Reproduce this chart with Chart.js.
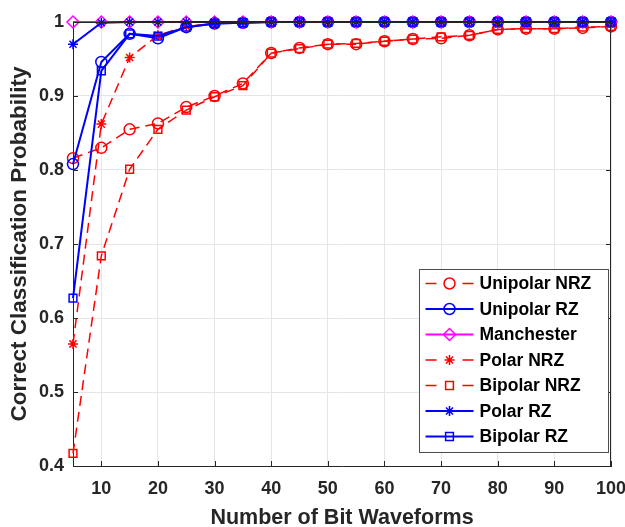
<!DOCTYPE html>
<html>
<head>
<meta charset="utf-8">
<script src="https://cdn.jsdelivr.net/npm/chart.js@4.4.1/dist/chart.umd.min.js"></script>
<style>
html, body { margin: 0; padding: 0; background: #fff; }
#wrap { width: 625px; height: 527px; position: relative; }
</style>
</head>
<body>
<div id="wrap"><canvas id="probChart"></canvas></div>
<script>
// number of bit waveforms (x axis)
var waveCounts = [5, 10, 15, 20, 25, 30, 35, 40, 45, 50, 55, 60, 65, 70, 75, 80, 85, 90, 95, 100];
var xTicks = [10, 20, 30, 40, 50, 60, 70, 80, 90, 100];
var yTicks = [0.4, 0.5, 0.6, 0.7, 0.8, 0.9, 1];

// correct classification probability per line code
var unipolarNrz = [0.816, 0.830, 0.855, 0.863, 0.885, 0.900, 0.917, 0.958, 0.965, 0.970, 0.970, 0.974, 0.977, 0.978, 0.982, 0.990, 0.991, 0.991, 0.992, 0.994];
var unipolarRz  = [0.808, 0.946, 0.984, 0.978, 0.993, 0.998, 0.999, 1, 1, 1, 1, 1, 1, 1, 1, 1, 1, 1, 1, 1];
var manchester  = [1, 1, 1, 1, 1, 1, 1, 1, 1, 1, 1, 1, 1, 1, 1, 1, 1, 1, 1, 1];
var polarNrz    = [0.565, 0.862, 0.952, 0.982, 0.994, 0.998, 0.999, 1, 1, 1, 1, 1, 1, 1, 1, 1, 1, 1, 1, 1];
var bipolarNrz  = [0.417, 0.684, 0.801, 0.855, 0.881, 0.899, 0.914, 0.958, 0.964, 0.970, 0.971, 0.974, 0.977, 0.980, 0.982, 0.990, 0.991, 0.991, 0.993, 0.994];
var polarRz     = [0.970, 0.999, 1, 1, 1, 1, 1, 1, 1, 1, 1, 1, 1, 1, 1, 1, 1, 1, 1, 1];
var bipolarRz   = [0.627, 0.934, 0.984, 0.981, 0.993, 0.998, 0.999, 1, 1, 1, 1, 1, 1, 1, 1, 1, 1, 1, 1, 1];

var seriesNames = ['Unipolar NRZ', 'Unipolar RZ', 'Manchester', 'Polar NRZ', 'Bipolar NRZ', 'Polar RZ', 'Bipolar RZ'];

var textColor = '#262626';
var fontFamily = '"Liberation Sans", Arial, sans-serif';

function makeSeries(name, values, color, dashed, marker, radius) {
    return {
        label: name,
        data: values.map(function (v, i) { return { x: waveCounts[i], y: v }; }),
        borderColor: color,
        borderWidth: dashed ? 1.5 : 2,
        borderDash: dashed ? [10, 6] : [],
        pointStyle: marker,
        pointRadius: radius,
        pointBorderColor: color,
        pointBackgroundColor: 'rgba(0,0,0,0)',
        pointBorderWidth: 1.5,
        fill: false,
        tension: 0,
        clip: false
    };
}

var datasets = [
    makeSeries(seriesNames[0], unipolarNrz, '#ff0000', true, 'circle', 5.5),
    makeSeries(seriesNames[1], unipolarRz, '#0000ff', false, 'circle', 5.5),
    makeSeries(seriesNames[2], manchester, '#ff00ff', false, 'rectRot', 6),
    makeSeries(seriesNames[3], polarNrz, '#ff0000', true, 'star', 5),
    makeSeries(seriesNames[4], bipolarNrz, '#ff0000', true, 'rect', 5.5),
    makeSeries(seriesNames[5], polarRz, '#0000ff', false, 'star', 5),
    makeSeries(seriesNames[6], bipolarRz, '#0000ff', false, 'rect', 5.5)
];
// later series on top, like the original plot order
datasets.forEach(function (d, i) { d.order = datasets.length - i; });

// box round the axes with inward tick marks
var axesFrame = {
    id: 'axesFrame',
    afterDraw: function (chart) {
        var ctx = chart.ctx;
        var a = chart.chartArea;
        var xs = chart.scales.x, ys = chart.scales.y;
        ctx.save();
        ctx.strokeStyle = textColor;
        ctx.lineWidth = 1;
        ctx.setLineDash([]);
        ctx.beginPath();
        ctx.moveTo(a.left, a.top + 0.5);
        ctx.lineTo(a.right, a.top + 0.5);
        ctx.moveTo(a.right - 0.5, a.top);
        ctx.lineTo(a.right - 0.5, a.bottom);
        xTicks.forEach(function (v) {
            var px = Math.round(xs.getPixelForValue(v)) + 0.5;
            ctx.moveTo(px, a.bottom);
            ctx.lineTo(px, a.bottom - 5);
            ctx.moveTo(px, a.top);
            ctx.lineTo(px, a.top + 5);
        });
        yTicks.forEach(function (v) {
            var py = Math.round(ys.getPixelForValue(v)) + 0.5;
            ctx.moveTo(a.left, py);
            ctx.lineTo(a.left + 5, py);
            ctx.moveTo(a.right, py);
            ctx.lineTo(a.right - 5, py);
        });
        ctx.stroke();
        ctx.restore();
    }
};

// legend box inside the plot, bottom right
var insideLegend = {
    id: 'insideLegend',
    afterDraw: function (chart) {
        var ctx = chart.ctx;
        var a = chart.chartArea;
        var w = 189, h = 183, rowH = 25.5;
        var x0 = Math.round(a.right - 3 - w) + 0.5;
        var y0 = Math.round(a.bottom - 14 - h) + 0.5;
        ctx.save();
        ctx.fillStyle = '#ffffff';
        ctx.fillRect(x0, y0, w, h);
        ctx.strokeStyle = '#4d4d4d';
        ctx.lineWidth = 1;
        ctx.strokeRect(x0, y0, w, h);
        chart.data.datasets.forEach(function (d, i) {
            var cy = y0 + 14 + i * rowH;
            var lx1 = x0 + 6, lx2 = x0 + 54, mx = x0 + 30;
            ctx.strokeStyle = d.borderColor;
            ctx.lineWidth = d.borderWidth;
            ctx.setLineDash([]);
            ctx.beginPath();
            if (d.borderDash.length) {
                ctx.moveTo(lx1, cy); ctx.lineTo(lx1 + 11, cy);
                ctx.moveTo(lx2 - 11, cy); ctx.lineTo(lx2, cy);
            } else {
                ctx.moveTo(lx1, cy); ctx.lineTo(lx2, cy);
            }
            ctx.stroke();
            ctx.fillStyle = 'rgba(0,0,0,0)';
            ctx.lineWidth = d.pointBorderWidth;
            Chart.helpers.drawPoint(ctx, {
                pointStyle: d.pointStyle,
                radius: d.pointRadius,
                rotation: 0,
                borderWidth: d.pointBorderWidth
            }, mx, cy);
            ctx.fillStyle = '#000000';
            ctx.font = 'bold 17.5px ' + fontFamily;
            ctx.textAlign = 'left';
            ctx.textBaseline = 'middle';
            ctx.fillText(d.label, x0 + 60, cy + 1);
        });
        ctx.restore();
    }
};

var probCtx = document.getElementById('probChart').getContext('2d');
var probChart = new Chart(probCtx, {
    type: 'line',
    data: { datasets: datasets },
    options: {
        responsive: true,
        maintainAspectRatio: false,
        animation: false,
        layout: { padding: { top: 22, right: 14, left: 0, bottom: 0 } },
        plugins: {
            legend: { display: false },
            tooltip: { enabled: false }
        },
        scales: {
            x: {
                type: 'linear',
                min: 5,
                max: 100,
                afterBuildTicks: function (s) { s.ticks = xTicks.map(function (v) { return { value: v }; }); },
                afterFit: function (s) {
                    s.height = 61;
                    s.paddingLeft = 0;
                    s.paddingRight = 0;
                },
                ticks: {
                    color: textColor,
                    padding: 12,
                    maxRotation: 0,
                    font: { family: fontFamily, size: 18, weight: 'bold' }
                },
                grid: { color: '#e6e6e6', drawTicks: false },
                border: { display: true, color: textColor, width: 1 },
                title: {
                    display: true,
                    text: 'Number of Bit Waveforms',
                    color: textColor,
                    padding: { top: 0, bottom: 0 },
                    font: { family: fontFamily, size: 21.5, weight: 'bold', lineHeight: 0.8 }
                }
            },
            y: {
                min: 0.4,
                max: 1,
                afterBuildTicks: function (s) { s.ticks = yTicks.map(function (v) { return { value: v }; }); },
                afterFit: function (s) {
                    s.width = 73;
                    s.paddingTop = 0;
                    s.paddingBottom = 0;
                },
                ticks: {
                    color: textColor,
                    padding: 9,
                    font: { family: fontFamily, size: 18, weight: 'bold' },
                    callback: function (v) { return v === 1 ? '1' : v.toFixed(1); }
                },
                grid: { color: '#e6e6e6', drawTicks: false },
                border: { display: true, color: textColor, width: 1 },
                title: {
                    display: true,
                    text: 'Correct Classification Probability',
                    color: textColor,
                    padding: { top: 6, bottom: 0 },
                    font: { family: fontFamily, size: 22.5, weight: 'bold' }
                }
            }
        }
    },
    plugins: [axesFrame, insideLegend]
});
</script>
</body>
</html>
